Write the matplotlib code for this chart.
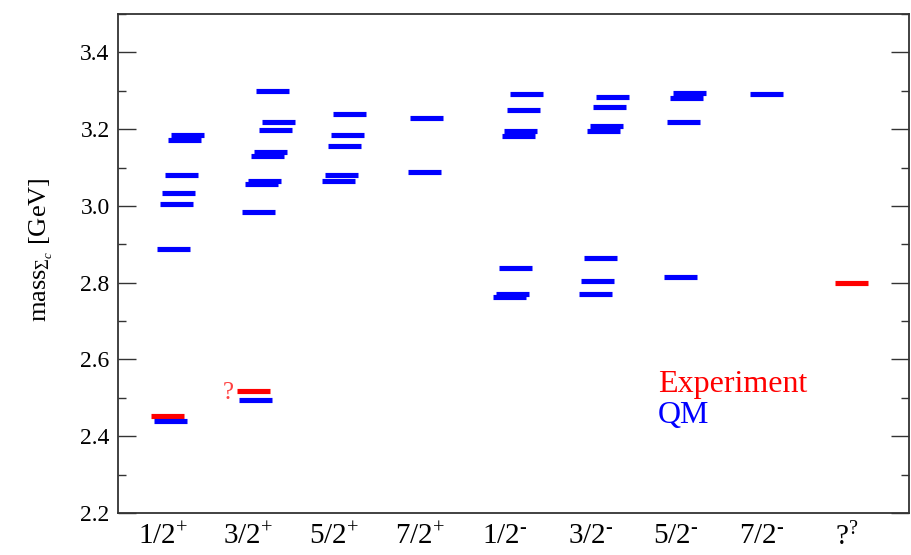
import matplotlib
matplotlib.use("Agg")
import matplotlib.pyplot as plt
from matplotlib.ticker import MultipleLocator

plt.rcParams['font.family'] = ['Liberation Serif', 'DejaVu Serif']
plt.rcParams['mathtext.fontset'] = 'custom'
plt.rcParams['mathtext.rm'] = 'Liberation Serif'
plt.rcParams['mathtext.it'] = 'Liberation Serif:italic'
plt.rcParams['mathtext.bf'] = 'Liberation Serif:bold'

# Spin-parity channels of the Sigma_c spectrum
channels = [r'$1/2^{+}$', r'$3/2^{+}$', r'$5/2^{+}$', r'$7/2^{+}$',
            r'$1/2^{\text{-}}$', r'$3/2^{\text{-}}$', r'$5/2^{\text{-}}$',
            r'$7/2^{\text{-}}$', r'$?^{?}$']

# Measured masses (GeV) per channel
experiment = [
    [2.454],
    [2.518],
    [],
    [],
    [],
    [],
    [],
    [],
    [2.800],
]

# Quark-model masses (GeV) per channel
qm = [
    [2.440, 2.888, 3.005, 3.034, 3.081, 3.172, 3.185],
    [2.495, 2.984, 3.057, 3.065, 3.130, 3.141, 3.299, 3.198, 3.219],
    [3.065, 3.081, 3.156, 3.185, 3.240],
    [3.089, 3.229],
    [2.763, 2.771, 2.839, 3.182, 3.195, 3.250, 3.292],
    [2.771, 2.805, 2.865, 3.195, 3.208, 3.258, 3.284],
    [2.815, 3.219, 3.281, 3.294],
    [3.292],
    [],
]

RED = '#ff0000'
BLUE = '#0000ff'
bar_len = 0.386
stagger = 0.0333
first = -0.14

fig = plt.figure(figsize=(9.12, 5.55), dpi=100)
ax = fig.add_axes([118 / 912, 1 - 513 / 555, (909 - 118) / 912, (513 - 14) / 555])

for k in range(len(channels)):
    levels = [(m, RED) for m in experiment[k]] + [(m, BLUE) for m in qm[k]]
    for i, (m, col) in enumerate(levels):
        x0 = k + first + i * stagger
        ax.hlines(m, x0, x0 + bar_len, colors=col, linewidth=3.7,
                  capstyle='butt')

ax.set_xlim(-0.526, 8.725)
ax.set_ylim(2.2, 3.5)

ax.set_xticks(range(len(channels)))
ax.set_xticklabels(channels, fontsize=21)
ax.tick_params(axis='x', length=0, pad=7)

ax.yaxis.set_major_locator(MultipleLocator(0.2))
ax.yaxis.set_minor_locator(MultipleLocator(0.1))
ax.set_yticks([2.2, 2.4, 2.6, 2.8, 3.0, 3.2, 3.4])
ax.set_yticklabels(['2.2', '2.4', '2.6', '2.8', '3.0', '3.2', '3.4'])
ax.tick_params(axis='y', which='both', direction='in', left=True, right=True,
               color='#333333', width=1.0, labelsize=17, pad=6)
ax.tick_params(axis='y', which='major', length=13)
ax.tick_params(axis='y', which='minor', length=6)

for sp in ax.spines.values():
    sp.set_linewidth(1.3)
    sp.set_color('#333333')

fig.text(41 / 912, 1 - 250 / 555, r'mass$_{\Sigma_{c}}$ [GeV]', rotation=90,
         ha='center', va='center', fontsize=19)

ax.text(5.79, 2.516, 'Experiment', color=RED, fontsize=23, ha='left',
        va='baseline')
ax.text(5.79, 2.435, 'QM', color=BLUE, fontsize=23, ha='left', va='baseline')
ax.text(0.83, 2.497, '?', color=RED, fontsize=18, ha='right', va='baseline',
        alpha=0.75)

fig.savefig('out.png', dpi=100)
